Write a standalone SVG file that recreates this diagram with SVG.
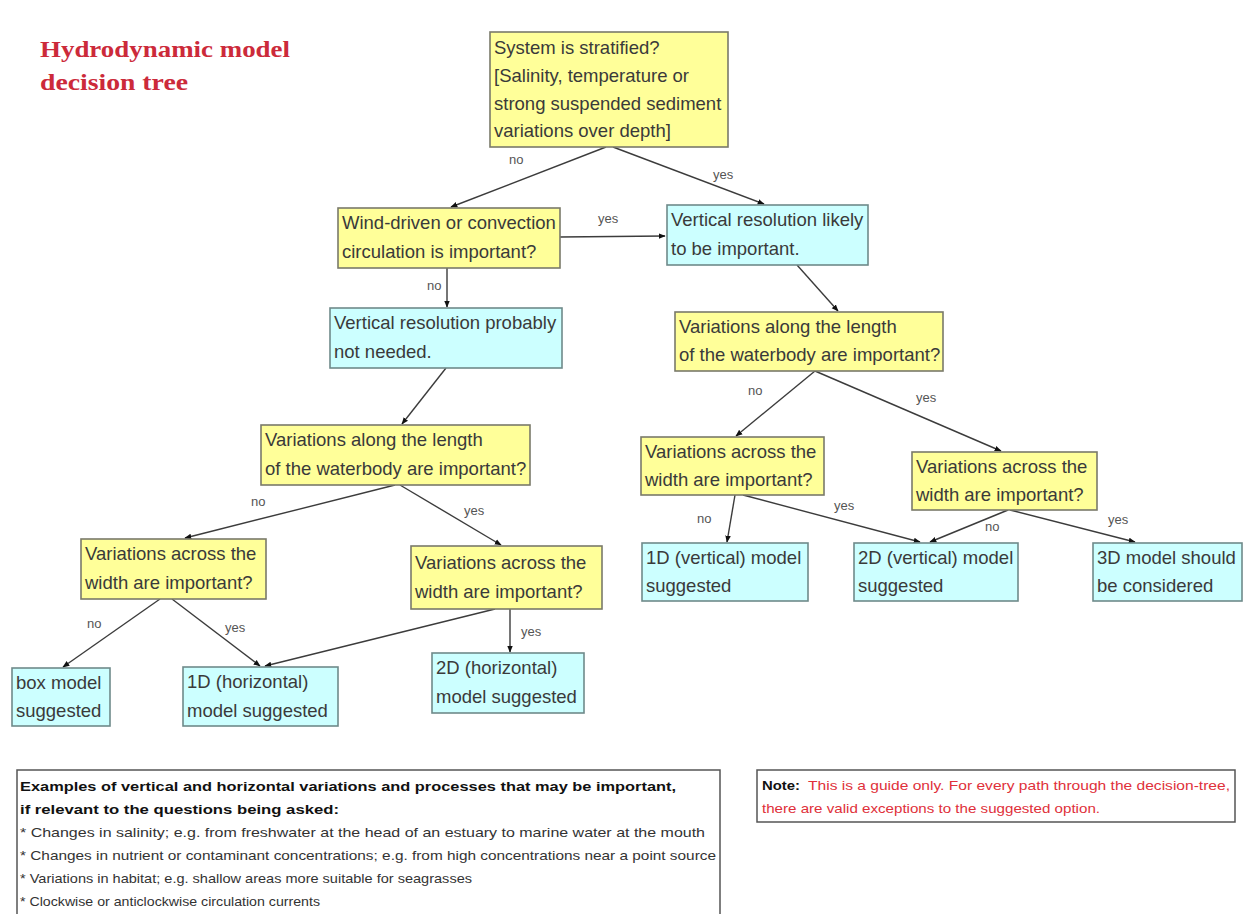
<svg xmlns="http://www.w3.org/2000/svg" width="1253" height="914" viewBox="0 0 1253 914">
<style>
.q{fill:#ffff99;stroke:#7a7a6a;stroke-width:1.6}
.r{fill:#ccffff;stroke:#6f8a8a;stroke-width:1.6}
.t{font-family:"Liberation Sans",Arial,sans-serif;font-size:18.5px;fill:#3a3a3a}
.e{stroke:#3c3c3c;stroke-width:1.4;fill:none;marker-end:url(#ah)}
.l{font-family:"Liberation Sans",Arial,sans-serif;font-size:13px;fill:#555}
.title{font-family:"Liberation Serif","Times New Roman",serif;font-weight:bold;font-size:23px;fill:#cc2a3a}
.ex{font-family:"Liberation Sans",Arial,sans-serif;font-size:13px;fill:#333}
.exb{font-family:"Liberation Sans",Arial,sans-serif;font-size:13.5px;font-weight:bold;fill:#111}
.nt{font-family:"Liberation Sans",Arial,sans-serif;font-size:13px;fill:#e0303a}
</style>
<defs>
<marker id="ah" viewBox="0 0 10 10" refX="9" refY="5" markerWidth="7" markerHeight="7" orient="auto" markerUnits="userSpaceOnUse">
<path d="M0,1 L10,5 L0,9 z" fill="#111"/>
</marker>
</defs>
<rect width="1253" height="914" fill="#ffffff"/>
<g id="title">
<text class="title" x="40" y="57" textLength="250" lengthAdjust="spacingAndGlyphs">Hydrodynamic model</text>
<text class="title" x="40" y="90" textLength="148" lengthAdjust="spacingAndGlyphs">decision tree</text>
</g>
<g id="connectors">
<line class="e" x1="606" y1="147" x2="451" y2="207"/>
<line class="e" x1="613" y1="147" x2="764" y2="204"/>
<line class="e" x1="560" y1="237" x2="665" y2="236"/>
<line class="e" x1="447" y1="268" x2="447" y2="307"/>
<line class="e" x1="797" y1="265" x2="838" y2="311"/>
<line class="e" x1="446" y1="368" x2="402" y2="424"/>
<line class="e" x1="815" y1="371" x2="736" y2="436"/>
<line class="e" x1="815" y1="371" x2="1001" y2="451"/>
<line class="e" x1="395" y1="485" x2="185" y2="538"/>
<line class="e" x1="400" y1="485" x2="501" y2="545"/>
<line class="e" x1="160" y1="599" x2="63" y2="667"/>
<line class="e" x1="172" y1="599" x2="260" y2="666"/>
<line class="e" x1="495" y1="609" x2="265" y2="666"/>
<line class="e" x1="510" y1="609" x2="510" y2="652"/>
<line class="e" x1="735" y1="495" x2="727" y2="542"/>
<line class="e" x1="743" y1="495" x2="920" y2="542"/>
<line class="e" x1="1008" y1="510" x2="930" y2="542"/>
<line class="e" x1="1010" y1="510" x2="1135" y2="542"/>
<text class="l" x="509" y="164">no</text>
<text class="l" x="713" y="179">yes</text>
<text class="l" x="598" y="223">yes</text>
<text class="l" x="427" y="290">no</text>
<text class="l" x="748" y="395">no</text>
<text class="l" x="916" y="402">yes</text>
<text class="l" x="251" y="506">no</text>
<text class="l" x="464" y="515">yes</text>
<text class="l" x="87" y="628">no</text>
<text class="l" x="225" y="632">yes</text>
<text class="l" x="521" y="636">yes</text>
<text class="l" x="697" y="523">no</text>
<text class="l" x="834" y="510">yes</text>
<text class="l" x="985" y="531">no</text>
<text class="l" x="1108" y="524">yes</text>
</g>
<g id="n-stratified">
<rect class="q" x="490" y="32" width="238" height="115"/>
<text class="t" x="494" y="54">System is stratified?</text>
<text class="t" x="494" y="82">[Salinity, temperature or</text>
<text class="t" x="494" y="110">strong suspended sediment</text>
<text class="t" x="494" y="137">variations over depth]</text>
</g>
<g id="n-wind">
<rect class="q" x="338" y="208" width="222" height="60"/>
<text class="t" x="342" y="229">Wind-driven or convection</text>
<text class="t" x="342" y="258">circulation is important?</text>
</g>
<g id="n-vert-likely">
<rect class="r" x="667" y="205" width="201" height="60"/>
<text class="t" x="671" y="226">Vertical resolution likely</text>
<text class="t" x="671" y="255">to be important.</text>
</g>
<g id="n-vert-not">
<rect class="r" x="330" y="308" width="232" height="60"/>
<text class="t" x="334" y="329">Vertical resolution probably</text>
<text class="t" x="334" y="358">not needed.</text>
</g>
<g id="n-length-right">
<rect class="q" x="675" y="312" width="268" height="59"/>
<text class="t" x="679" y="333">Variations along the length</text>
<text class="t" x="679" y="361">of the waterbody are important?</text>
</g>
<g id="n-length-left">
<rect class="q" x="261" y="425" width="269" height="60"/>
<text class="t" x="265" y="446">Variations along the length</text>
<text class="t" x="265" y="475">of the waterbody are important?</text>
</g>
<g id="n-width-r1">
<rect class="q" x="641" y="437" width="183" height="58"/>
<text class="t" x="645" y="458">Variations across the</text>
<text class="t" x="645" y="486">width are important?</text>
</g>
<g id="n-width-r2">
<rect class="q" x="912" y="452" width="185" height="58"/>
<text class="t" x="916" y="473">Variations across the</text>
<text class="t" x="916" y="501">width are important?</text>
</g>
<g id="n-width-l1">
<rect class="q" x="81" y="539" width="185" height="60"/>
<text class="t" x="85" y="560">Variations across the</text>
<text class="t" x="85" y="589">width are important?</text>
</g>
<g id="n-width-l2">
<rect class="q" x="411" y="546" width="191" height="63"/>
<text class="t" x="415" y="569">Variations across the</text>
<text class="t" x="415" y="598">width are important?</text>
</g>
<g id="n-box">
<rect class="r" x="12" y="668" width="98" height="58"/>
<text class="t" x="16" y="689">box model</text>
<text class="t" x="16" y="717">suggested</text>
</g>
<g id="n-1dh">
<rect class="r" x="183" y="667" width="155" height="59"/>
<text class="t" x="187" y="688">1D (horizontal)</text>
<text class="t" x="187" y="717">model suggested</text>
</g>
<g id="n-2dh">
<rect class="r" x="432" y="653" width="152" height="60"/>
<text class="t" x="436" y="674">2D (horizontal)</text>
<text class="t" x="436" y="703">model suggested</text>
</g>
<g id="n-1dv">
<rect class="r" x="642" y="543" width="166" height="58"/>
<text class="t" x="646" y="564">1D (vertical) model</text>
<text class="t" x="646" y="592">suggested</text>
</g>
<g id="n-2dv">
<rect class="r" x="854" y="543" width="164" height="58"/>
<text class="t" x="858" y="564">2D (vertical) model</text>
<text class="t" x="858" y="592">suggested</text>
</g>
<g id="n-3d">
<rect class="r" x="1093" y="543" width="149" height="58"/>
<text class="t" x="1097" y="564">3D model should</text>
<text class="t" x="1097" y="592">be considered</text>
</g>
<g id="examples">
<rect x="17" y="770" width="703" height="150" fill="#fff" stroke="#555" stroke-width="1.5"/>
<text class="exb" x="20" y="791" textLength="656" lengthAdjust="spacingAndGlyphs">Examples of vertical and horizontal variations and processes that may be important,</text>
<text class="exb" x="20" y="814" textLength="319" lengthAdjust="spacingAndGlyphs">if relevant to the questions being asked:</text>
<text class="ex" x="20" y="837" textLength="685" lengthAdjust="spacingAndGlyphs">* Changes in salinity; e.g. from freshwater at the head of an estuary to marine water at the mouth</text>
<text class="ex" x="20" y="860" textLength="696" lengthAdjust="spacingAndGlyphs">* Changes in nutrient or contaminant concentrations; e.g. from high concentrations near a point source</text>
<text class="ex" x="20" y="883" textLength="452" lengthAdjust="spacingAndGlyphs">* Variations in habitat; e.g. shallow areas more suitable for seagrasses</text>
<text class="ex" x="20" y="906" textLength="300" lengthAdjust="spacingAndGlyphs">* Clockwise or anticlockwise circulation currents</text>
</g>
<g id="note">
<rect x="757" y="770" width="478" height="52" fill="#fff" stroke="#555" stroke-width="1.5"/>
<text class="exb" x="762" y="790" textLength="38" lengthAdjust="spacingAndGlyphs" style="font-size:13px">Note:</text>
<text class="nt" x="808" y="790" textLength="422" lengthAdjust="spacingAndGlyphs">This is a guide only.  For every path through the decision-tree,</text>
<text class="nt" x="762" y="813" textLength="338" lengthAdjust="spacingAndGlyphs">there are valid exceptions to the suggested option.</text>
</g>
</svg>
